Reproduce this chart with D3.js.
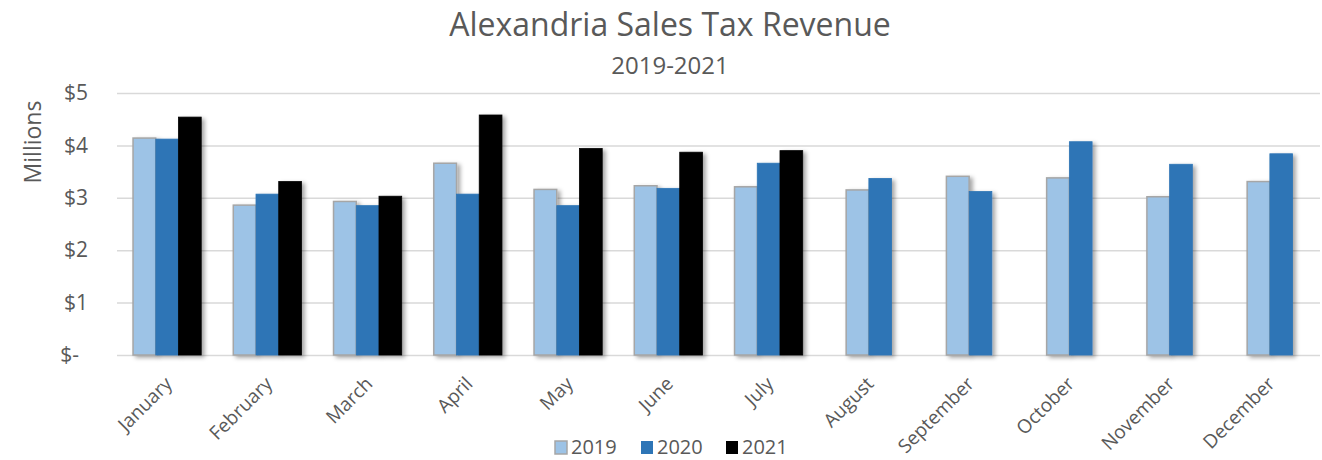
<!DOCTYPE html>
<html>
<head>
<meta charset="utf-8">
<script src="https://cdn.jsdelivr.net/npm/d3@7"></script>
<style>
  html, body { margin: 0; padding: 0; background: #fff; }
  svg { display: block; font-family: "Open Sans", sans-serif; }
</style>
</head>
<body>
<svg id="chart" width="1322" height="460"></svg>
<script>
// data (millions of dollars)
const months = ["January", "February", "March", "April", "May", "June", "July",
  "August", "September", "October", "November", "December"];
const years = ["2019", "2020", "2021"];
const rev2019 = [4.14, 2.86, 2.93, 3.66, 3.16, 3.23, 3.21, 3.15, 3.41, 3.38, 3.02, 3.31];
const rev2020 = [4.12, 3.07, 2.85, 3.07, 2.85, 3.18, 3.66, 3.37, 3.12, 4.07, 3.64, 3.84];
const rev2021 = [4.54, 3.31, 3.03, 4.58, 3.94, 3.87, 3.90, null, null, null, null, null];
const yTicks = [0, 1, 2, 3, 4, 5];

const fills = {"2019": "#9dc3e6", "2020": "#2e75b6", "2021": "#000000"};
const strokes = {"2019": "#a6a6a6", "2020": "#2e75b6", "2021": "#000000"};
const text_color = "#595959";
const grid_color = "#d9d9d9";

const svg = d3.select("#chart");
const margin = {left: 117, right: 2, top: 93, bottom: 105};
const width = 1322, height = 460;

const x = d3.scaleBand()
  .domain(months)
  .range([margin.left, width - margin.right])
  .paddingInner(0.32)
  .paddingOuter(0.16);

const y = d3.scaleLinear()
  .domain([0, 5])
  .range([height - margin.bottom, margin.top]);

// drop shadow like Excel's outer shadow
const defs = svg.append("defs");
const shadow = defs.append("filter").attr("id", "shadow")
  .attr("x", "-20%").attr("y", "-5%").attr("width", "160%").attr("height", "115%");
shadow.append("feDropShadow")
  .attr("dx", 3).attr("dy", 2)
  .attr("stdDeviation", 2.2)
  .attr("flood-color", "#000")
  .attr("flood-opacity", 0.35);

// ===============================================================
// gridlines + y labels
const yAxis = svg.append("g")
  .attr("transform", `translate(${margin.left},0)`)
  .call(d3.axisLeft(y).tickValues(yTicks)
    .tickSize(-(width - margin.left - margin.right))
    .tickFormat(d => d === 0 ? "$-" : `$${d}`));
yAxis.select(".domain").remove();
yAxis.selectAll(".tick line")
  .attr("stroke", grid_color)
  .attr("stroke-width", 1.5);
yAxis.selectAll(".tick text")
  .attr("x", -29)
  .attr("fill", text_color)
  .style("font-size", "21px")
  .style("font-family", "Open Sans, sans-serif");
yAxis.selectAll(".tick")
  .filter(d => d === 0)
  .select("text")
  .attr("x", -38);

// ===============================================================
// bars
const barW = x.bandwidth() / years.length;
const series = {"2019": rev2019, "2020": rev2020, "2021": rev2021};

months.forEach((m, i) => {
  const present = years.filter(yr => series[yr][i] != null);
  const cx = x(m) + x.bandwidth() / 2;
  const x0 = cx - present.length * barW / 2;
  const g = svg.append("g").attr("class", "month");
  present.forEach((yr, j) => {
    const v = series[yr][i];
    g.append("rect")
      .attr("x", x0 + j * barW)
      .attr("y", y(v))
      .attr("width", barW)
      .attr("height", y(0) - y(v))
      .attr("fill", fills[yr])
      .attr("stroke", strokes[yr])
      .attr("stroke-width", yr === "2019" ? 1.5 : 0.8)
      .attr("filter", "url(#shadow)");
  });
});

// ===============================================================
// x labels
const xAxis = svg.append("g")
  .attr("transform", `translate(0,${y(0)})`)
  .call(d3.axisBottom(x).tickSize(0));
xAxis.select(".domain").remove();
xAxis.selectAll(".tick text")
  .attr("fill", text_color)
  .style("font-size", "19px")
  .style("font-family", "Open Sans, sans-serif")
  .attr("text-anchor", "end")
  .attr("dy", 0)
  .attr("y", 0)
  .attr("transform", "translate(6,30) rotate(-45)");

// ===============================================================
// titles
svg.append("text")
  .attr("x", 670).attr("y", 36)
  .attr("text-anchor", "middle")
  .attr("fill", text_color)
  .style("font-size", "32px")
  .text("Alexandria Sales Tax Revenue");

svg.append("text")
  .attr("x", 670).attr("y", 74)
  .attr("text-anchor", "middle")
  .attr("fill", text_color)
  .style("font-size", "24px")
  .text("2019-2021");

svg.append("text")
  .attr("transform", "translate(41,142) rotate(-90)")
  .attr("text-anchor", "middle")
  .attr("fill", text_color)
  .style("font-size", "23px")
  .text("Millions");

// ===============================================================
// legend
const legendX = [555, 641, 726];
const legend = svg.append("g");
years.forEach((yr, i) => {
  legend.append("rect")
    .attr("x", legendX[i]).attr("y", 441)
    .attr("width", 12).attr("height", 13)
    .attr("fill", fills[yr])
    .attr("stroke", strokes[yr])
    .attr("stroke-width", yr === "2019" ? 1.5 : 0);
  legend.append("text")
    .attr("x", legendX[i] + 16).attr("y", 454)
    .attr("fill", text_color)
    .style("font-size", "20px")
    .text(yr);
});
</script>
</body>
</html>
